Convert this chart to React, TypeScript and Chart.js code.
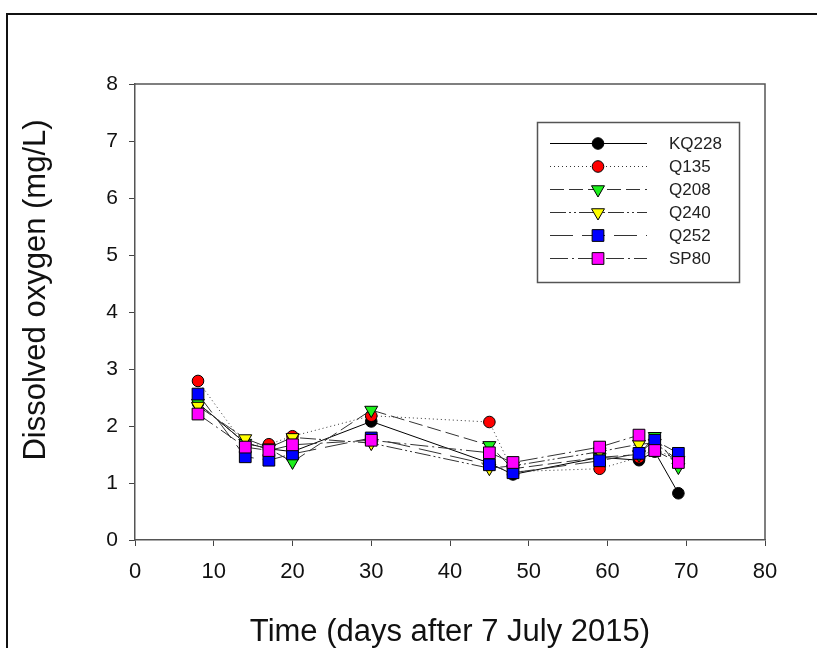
import React, { useEffect, useRef } from "react";
import { Chart, registerables } from "chart.js";

Chart.register(...registerables);

// Sampling days (days after 7 July 2015)
const days = [8, 14, 17, 20, 30, 45, 48, 59, 64, 66, 69];

// Dissolved oxygen (mg/L) per well
const kq228 = [2.4, 1.7, 1.6, 1.55, 2.08, 1.35, 1.15, 1.45, 1.4, 1.55, 0.82];
const q135 = [2.79, 1.65, 1.68, 1.82, 2.18, 2.07, 1.2, 1.25, 1.45, 1.6, 1.4];
const q208 = [2.4, 1.7, 1.6, 1.37, 2.28, 1.66, 1.25, 1.45, 1.5, 1.82, 1.28];
const q240 = [2.35, 1.78, 1.62, 1.8, 1.7, 1.26, 1.3, 1.55, 1.68, 1.7, 1.4];
const q252 = [2.56, 1.46, 1.4, 1.51, 1.79, 1.32, 1.18, 1.39, 1.52, 1.75, 1.52];
const sp80 = [2.21, 1.63, 1.57, 1.67, 1.75, 1.53, 1.36, 1.63, 1.84, 1.57, 1.36];

const xTicks = [0, 10, 20, 30, 40, 50, 60, 70, 80];
const yTicks = [0, 1, 2, 3, 4, 5, 6, 7, 8];

const seriesNames = ["KQ228", "Q135", "Q208", "Q240", "Q252", "SP80"];
const seriesValues = [kq228, q135, q208, q240, q252, sp80];

const xTitle = "Time (days after 7 July 2015)";
const yTitle = "Dissolved oxygen (mg/L)";

const FONT = "'Liberation Sans', Arial, sans-serif";
const LINE = "#333333";

type Style = {
  color: string;
  shape: "circle" | "triangleDown" | "square";
  dash: number[];
};

const styles: Style[] = [
  { color: "#000000", shape: "circle", dash: [] },
  { color: "#ff0000", shape: "circle", dash: [1, 3] },
  { color: "#1cf01c", shape: "triangleDown", dash: [14, 5] },
  { color: "#ffff00", shape: "triangleDown", dash: [16, 3, 2, 3, 2, 3] },
  { color: "#0000ff", shape: "square", dash: [23, 9] },
  { color: "#ff00ff", shape: "square", dash: [18, 4, 2, 4] },
];

const CIRCLE_R = 5.8;
const SQUARE_R = 8.3; // chart.js rect side = r * sqrt(2)
const TRI_R = 7.5;

function pointProps(s: Style) {
  if (s.shape === "circle") return { pointStyle: "circle", pointRadius: CIRCLE_R, pointRotation: 0 };
  if (s.shape === "square") return { pointStyle: "rect", pointRadius: SQUARE_R, pointRotation: 0 };
  return { pointStyle: "triangle", pointRadius: TRI_R, pointRotation: 180 };
}

function drawMarker(ctx: CanvasRenderingContext2D, s: Style, x: number, y: number) {
  ctx.beginPath();
  if (s.shape === "circle") {
    ctx.arc(x, y, CIRCLE_R, 0, Math.PI * 2);
  } else if (s.shape === "square") {
    const h = SQUARE_R * Math.SQRT1_2;
    ctx.rect(x - h, y - h, 2 * h, 2 * h);
  } else {
    for (let k = 0; k < 3; k++) {
      const a = Math.PI + (k * 2 * Math.PI) / 3;
      const px = x + Math.sin(a) * TRI_R;
      const py = y - Math.cos(a) * TRI_R;
      if (k === 0) ctx.moveTo(px, py);
      else ctx.lineTo(px, py);
    }
    ctx.closePath();
  }
  ctx.fillStyle = s.color;
  ctx.fill();
  ctx.lineWidth = 1;
  ctx.strokeStyle = "#000";
  ctx.setLineDash([]);
  ctx.stroke();
}

const decorations = {
  id: "decorations",
  afterDraw(chart: any) {
    const ctx: CanvasRenderingContext2D = chart.ctx;
    const { left, right, top, bottom } = chart.chartArea;
    ctx.save();

    // page frame
    ctx.fillStyle = "#111";
    ctx.fillRect(6, 13, 811, 2);
    ctx.fillRect(6, 13, 2, 635);

    // top and right sides of the plot box
    ctx.strokeStyle = "#555";
    ctx.lineWidth = 1.5;
    ctx.setLineDash([]);
    ctx.beginPath();
    ctx.moveTo(left, top);
    ctx.lineTo(right, top);
    ctx.lineTo(right, bottom);
    ctx.stroke();

    // axis titles
    ctx.fillStyle = "#111";
    ctx.font = `31px ${FONT}`;
    ctx.textAlign = "center";
    ctx.textBaseline = "alphabetic";
    ctx.fillText(xTitle, (left + right) / 2, 641);
    ctx.save();
    ctx.translate(45, 290);
    ctx.rotate(-Math.PI / 2);
    ctx.fillText(yTitle, 0, 0);
    ctx.restore();

    // legend
    const bx = 537.5, by = 122.5, bw = 202, bh = 160;
    ctx.fillStyle = "#fff";
    ctx.fillRect(bx, by, bw, bh);
    ctx.strokeStyle = "#555";
    ctx.lineWidth = 1.5;
    ctx.strokeRect(bx, by, bw, bh);
    const rowY = [143.5, 166.5, 189.5, 212.5, 235.5, 258.5];
    ctx.font = `17px ${FONT}`;
    ctx.textAlign = "left";
    ctx.textBaseline = "middle";
    seriesNames.forEach((name, i) => {
      const s = styles[i];
      const y = rowY[i];
      ctx.strokeStyle = s.dash.length === 0 ? "#000" : LINE;
      ctx.lineWidth = 1;
      ctx.setLineDash(s.dash);
      ctx.beginPath();
      ctx.moveTo(550, y);
      ctx.lineTo(647, y);
      ctx.stroke();
      drawMarker(ctx, s, 598, y);
      ctx.fillStyle = "#222";
      ctx.fillText(name, 669, y + 1);
    });
    ctx.restore();
  },
};

export default function App() {
  const canvasRef = useRef<HTMLCanvasElement | null>(null);

  useEffect(() => {
    const canvas = canvasRef.current;
    if (!canvas) return;

    const datasets = seriesNames.map((name, i) => {
      const s = styles[i];
      return {
        label: name,
        data: days.map((d, j) => ({ x: d, y: seriesValues[i][j] })),
        borderColor: s.dash.length === 0 ? "#000" : LINE,
        borderWidth: 1,
        borderDash: s.dash,
        backgroundColor: s.color,
        pointBackgroundColor: s.color,
        pointBorderColor: "#000",
        pointBorderWidth: 1,
        tension: 0,
        fill: false,
        showLine: true,
        // later wells sit on top of earlier ones
        order: seriesNames.length - 1 - i,
        ...pointProps(s),
      };
    });

    const chart = new Chart(canvas, {
      type: "line",
      data: { datasets } as any,
      plugins: [decorations],
      options: {
        animation: false,
        responsive: false,
        devicePixelRatio: 1,
        layout: { padding: { left: 0, top: 84, right: 52, bottom: 0 } },
        plugins: {
          legend: { display: false },
          tooltip: { enabled: false },
        },
        scales: {
          x: {
            type: "linear",
            min: 0,
            max: 80,
            afterBuildTicks: (scale: any) => {
              scale.ticks = xTicks.map((v) => ({ value: v }));
            },
            afterFit: (scale: any) => {
              scale.height = 108;
            },
            grid: {
              display: true,
              drawOnChartArea: false,
              drawTicks: true,
              tickLength: 6,
              color: "#444",
              lineWidth: 1,
            },
            border: { display: true, color: "#555", width: 1.5 },
            ticks: {
              color: "#111",
              font: { family: FONT, size: 22 },
              padding: 13,
              maxRotation: 0,
              autoSkip: false,
            },
          },
          y: {
            type: "linear",
            min: 0,
            max: 8,
            afterBuildTicks: (scale: any) => {
              scale.ticks = yTicks.map((v) => ({ value: v }));
            },
            afterFit: (scale: any) => {
              scale.width = 135;
            },
            grid: {
              display: true,
              drawOnChartArea: false,
              drawTicks: true,
              tickLength: 6,
              color: "#444",
              lineWidth: 1,
            },
            border: { display: true, color: "#555", width: 1.5 },
            ticks: {
              color: "#111",
              font: { family: FONT, size: 21 },
              padding: 11,
              autoSkip: false,
            },
          },
        },
      } as any,
    });

    return () => chart.destroy();
  }, []);

  return (
    <div style={{ position: "absolute", left: 0, top: 0, width: 817, height: 648, background: "#fff", overflow: "hidden" }}>
      <canvas ref={canvasRef} width={817} height={648} style={{ display: "block" }} />
    </div>
  );
}
